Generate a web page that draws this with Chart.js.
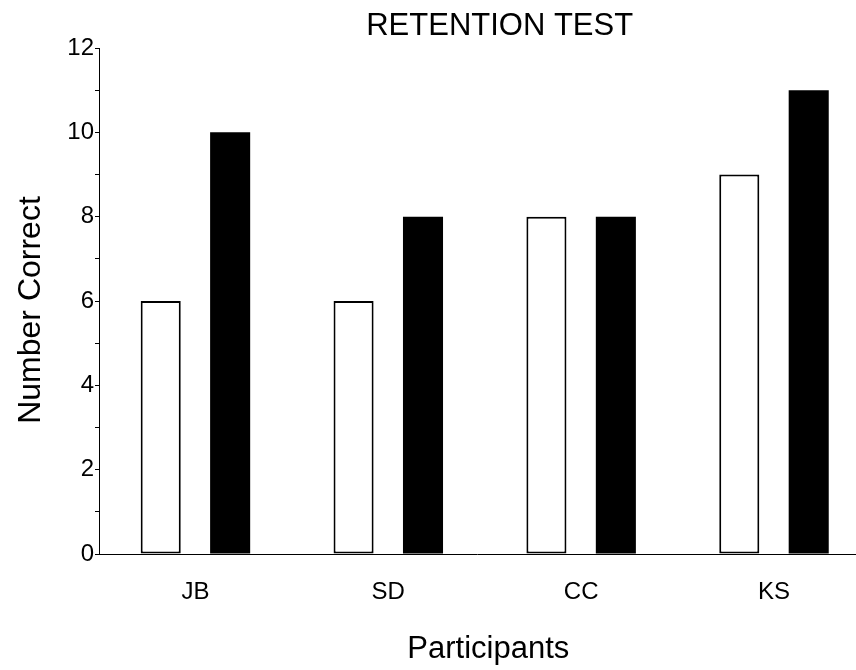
<!DOCTYPE html>
<html>
<head>
<meta charset="utf-8">
<title>Retention Test</title>
<script src="https://cdn.jsdelivr.net/npm/chart.js@4/dist/chart.umd.min.js"></script>
<style>
  html, body { margin: 0; padding: 0; background: #fff; overflow: hidden; }
  canvas { display: block; }
</style>
</head>
<body>
<canvas id="chart" width="856" height="670"></canvas>
<script>
/* DATA */
const participants = ["JB", "SD", "CC", "KS"];
const whiteBars = [6, 6, 8, 9];
const blackBars = [10, 8, 8, 11];
const yTicks = [0, 2, 4, 6, 8, 10, 12];

const chartTitle = "RETENTION TEST";
const xTitle = "Participants";
const yTitle = "Number Correct";

const FONT = "'Liberation Sans', Arial, sans-serif";

/* HELPERS */
function toPoints(arr) {
  return arr.map((v, i) => ({ x: i + 1, y: v }));
}

/* TEXT (title + axis titles) */
const textPlugin = {
  id: "texts",
  afterDraw(chart) {
    const { ctx, chartArea } = chart;
    ctx.save();
    ctx.fillStyle = "#000";
    ctx.textAlign = "center";
    ctx.textBaseline = "alphabetic";

    ctx.font = "31px " + FONT;
    ctx.fillText(chartTitle, chartArea.left + chartArea.width * 0.53, 35);

    ctx.font = "31px " + FONT;
    ctx.fillText(xTitle, chartArea.left + chartArea.width * 0.515, 658);

    ctx.translate(40, (chartArea.top + chartArea.bottom) / 2 + 9);
    ctx.rotate(-Math.PI / 2);
    ctx.font = "32px " + FONT;
    ctx.fillText(yTitle, 0, 0);
    ctx.restore();
  },
};

/* CHART */
new Chart(document.getElementById("chart"), {
  type: "bar",
  data: {
    datasets: [
      {
        data: toPoints(whiteBars),
        backgroundColor: "#fff",
        borderColor: "#000",
        borderWidth: 2,
        borderSkipped: false,
      },
      {
        data: toPoints(blackBars),
        backgroundColor: "#000",
        borderColor: "#000",
        borderWidth: 0,
      },
    ],
  },
  options: {
    responsive: false,
    animation: false,
    categoryPercentage: 0.72,
    barPercentage: 0.577,
    layout: { padding: { top: 48, right: 1, left: 0, bottom: 0 } },
    plugins: {
      legend: { display: false },
      title: { display: false },
      tooltip: { enabled: false },
    },
    scales: {
      x: {
        type: "linear",
        offset: false,
        min: 0.5,
        max: 4.42,
        afterBuildTicks: (scale) => {
          scale.ticks = participants.map((p, i) => ({ value: i + 1 }));
        },
        afterFit: (scale) => {
          scale.height = 116;
        },
        ticks: {
          callback: (v) => participants[v - 1],
          color: "#000",
          font: { family: FONT, size: 24 },
          padding: 24,
        },
        grid: { drawOnChartArea: false, drawTicks: false, offset: false },
        border: { color: "#000", width: 1 },
      },
      y: {
        min: 0,
        max: 12,
        afterBuildTicks: (scale) => {
          const t = [];
          for (let v = 0; v <= 12; v++) t.push({ value: v });
          scale.ticks = t;
        },
        afterFit: (scale) => {
          scale.width = 99;
        },
        ticks: {
          callback: (v) => (yTicks.includes(v) ? v : ""),
          color: "#000",
          font: { family: FONT, size: 24 },
          padding: 1,
        },
        grid: { drawOnChartArea: false, tickLength: 4, color: "#000" },
        border: { color: "#000", width: 1 },
      },
    },
  },
  plugins: [textPlugin],
});
</script>
</body>
</html>
